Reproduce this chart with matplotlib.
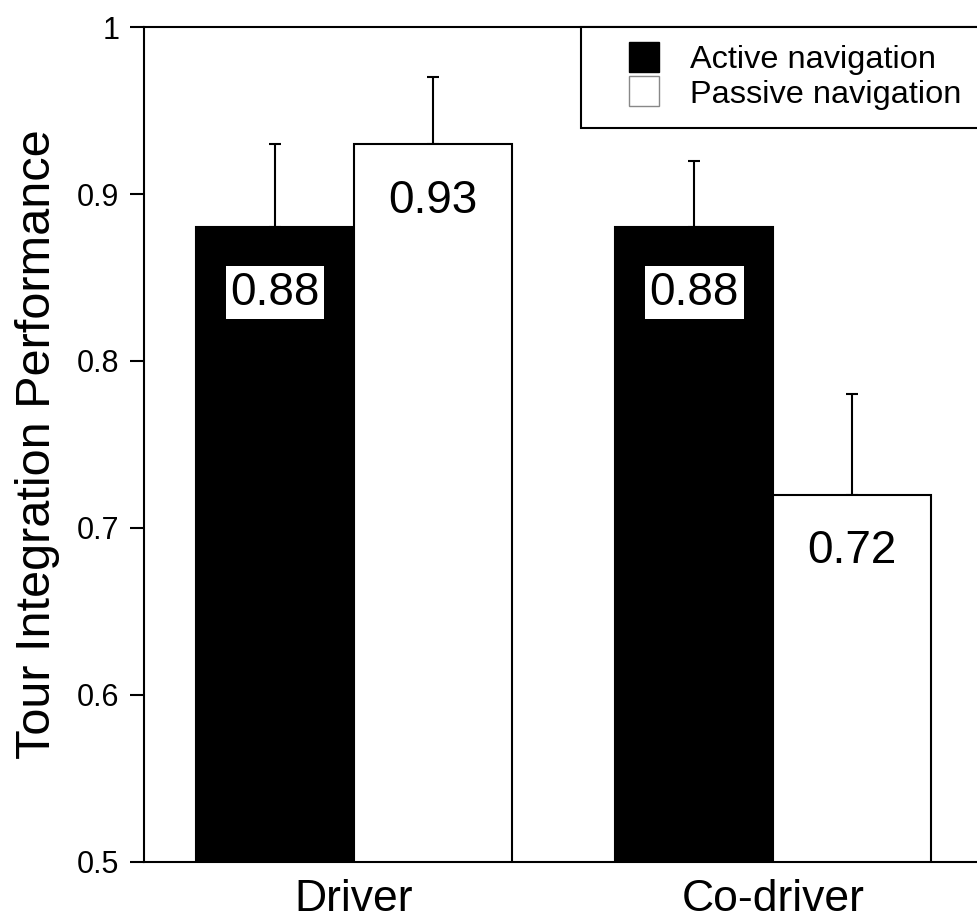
import numpy as np
import matplotlib
matplotlib.use("Agg")
import matplotlib.pyplot as plt
from matplotlib.lines import Line2D

plt.rcParams["font.family"] = ["Liberation Sans", "DejaVu Sans"]

# data
groups = ["Driver", "Co-driver"]
active = [0.88, 0.88]
passive = [0.93, 0.72]
active_err = [0.05, 0.04]
passive_err = [0.04, 0.06]
yticks = [0.5, 0.6, 0.7, 0.8, 0.9, 1.0]
ytick_labels = ["0.5", "0.6", "0.7", "0.8", "0.9", "1"]

fig = plt.figure(figsize=(9.78, 9.22), dpi=100)
ax = fig.add_axes([0.1477, 0.0651, 0.857, 0.9056])

x = np.arange(len(groups))
w = 0.376

ax.bar(x - w / 2, active, w, color="black", edgecolor="black", linewidth=1.5, zorder=2)
ax.bar(x + w / 2, passive, w, color="white", edgecolor="black", linewidth=1.5, zorder=2)

# upper error bars only
ax.errorbar(x - w / 2, active, yerr=[np.zeros(2), active_err], fmt="none",
            ecolor="black", elinewidth=1.5, capsize=4.3, capthick=1.5, zorder=1)
ax.errorbar(x + w / 2, passive, yerr=[np.zeros(2), passive_err], fmt="none",
            ecolor="black", elinewidth=1.5, capsize=4.3, capthick=1.5, zorder=1)

# value labels
for xi, v in zip(x - w / 2, active):
    ax.text(xi, v - 0.039, f"{v:.2f}", ha="center", va="center", fontsize=33,
            color="black", zorder=3,
            bbox=dict(boxstyle="square,pad=0.1", facecolor="white", edgecolor="none"))
for xi, v in zip(x + w / 2, passive):
    ax.text(xi, v - 0.034, f"{v:.2f}", ha="center", va="center", fontsize=33,
            color="black", zorder=3)

ax.set_xlim(-0.5, 1.5)
ax.set_ylim(0.5, 1.0)
ax.set_yticks(yticks)
ax.set_yticklabels(ytick_labels, fontsize=22)
ax.set_xticks(x)
ax.set_xticklabels(groups, fontsize=32)
ax.tick_params(axis="x", length=0, pad=12)
ax.tick_params(axis="y", length=10, width=1.5, pad=8)
ax.set_ylabel("Tour Integration Performance", fontsize=35)
ax.yaxis.set_label_coords(-0.1006, 0.5)

for s in ["left", "top", "bottom"]:
    ax.spines[s].set_linewidth(1.5)
ax.spines["right"].set_visible(False)

handles = [
    Line2D([], [], linestyle="none", marker="s", markersize=21.6,
           markerfacecolor="black", markeredgecolor="black"),
    Line2D([], [], linestyle="none", marker="s", markersize=21.6,
           markerfacecolor="white", markeredgecolor="#888888", markeredgewidth=1),
]
leg = ax.legend(handles, ["Active navigation", "Passive navigation"],
                loc="upper right", bbox_to_anchor=(0.9955, 1.0), fontsize=23.4,
                frameon=True, fancybox=False, borderpad=0.55, labelspacing=0.15,
                handlelength=2.8, handletextpad=0.0, borderaxespad=0.0)
leg.get_frame().set_edgecolor("black")
leg.get_frame().set_linewidth(1.5)
leg.get_frame().set_alpha(1)

fig.savefig("out.png", dpi=100)
